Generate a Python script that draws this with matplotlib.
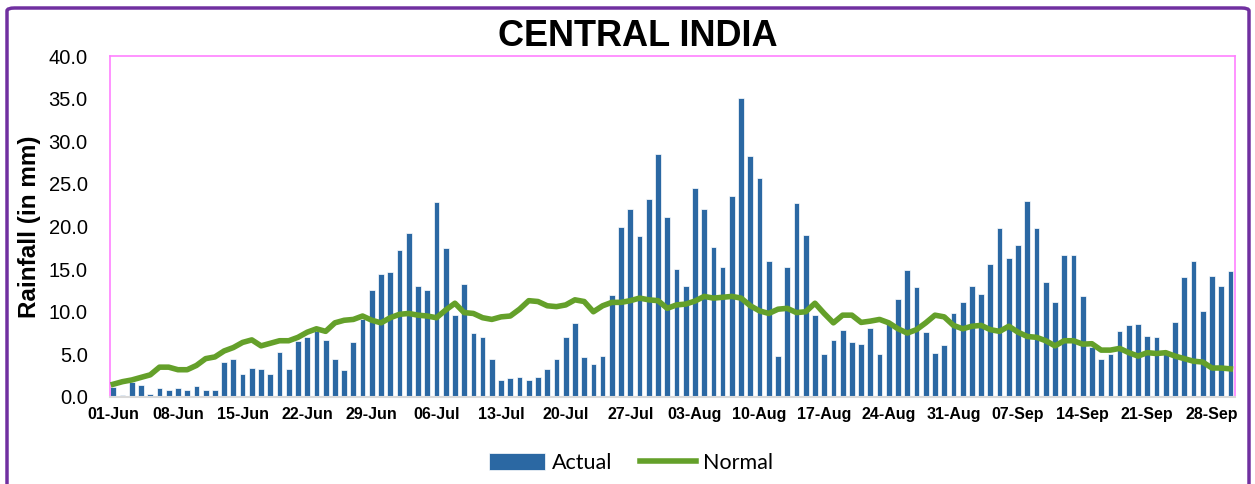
import pandas as pd
import matplotlib.pyplot as plt
from matplotlib.patches import FancyBboxPatch

plt.rcParams['font.family'] = ['Liberation Sans', 'DejaVu Sans']

dates = pd.date_range('2023-06-01', '2023-09-30', freq='D')
day_labels = dates.strftime('%d-%b').tolist()

actual = [1.2, 0.2, 1.8, 1.4, 0.35, 1.0, 0.8, 1.0, 0.8, 1.3,
          0.8, 0.8, 4.1, 4.5, 2.7, 3.4, 3.3, 2.7, 5.3, 3.3,
          6.6, 7.0, 7.7, 6.7, 4.4, 3.2, 6.4, 9.1, 12.6, 14.4,
          14.7, 17.3, 19.2, 13.0, 12.6, 22.9, 17.5, 9.6, 13.2, 7.5,
          7.0, 4.5, 2.0, 2.2, 2.3, 2.0, 2.3, 3.3, 4.5, 7.0,
          8.7, 4.7, 3.9, 4.8, 12.0, 19.9, 22.1, 18.9, 23.2, 28.5,
          21.1, 15.0, 13.0, 24.5, 22.1, 17.6, 15.3, 23.6, 35.1, 28.3,
          25.7, 15.9, 4.8, 15.2, 22.7, 19.0, 9.6, 5.0, 6.7, 7.9,
          6.4, 6.2, 8.1, 5.0, 8.7, 11.5, 14.9, 12.9, 7.6, 5.2,
          6.1, 9.9, 11.1, 13.0, 12.1, 15.6, 19.8, 16.3, 17.8, 23.0,
          19.8, 13.5, 11.1, 16.7, 16.7, 11.9, 5.9, 4.4, 5.0, 7.8,
          8.4, 8.6, 7.1, 7.0, 5.3, 8.8, 14.1, 15.9, 10.1, 14.2,
          13.0, 14.8]

normal = [1.5, 1.8, 2.0, 2.3, 2.6, 3.5, 3.5, 3.2, 3.2, 3.7,
          4.5, 4.7, 5.4, 5.8, 6.4, 6.7, 6.0, 6.3, 6.6, 6.6,
          7.0, 7.6, 8.0, 7.7, 8.7, 9.0, 9.1, 9.5, 9.0, 8.7,
          9.3, 9.7, 9.8, 9.6, 9.5, 9.3, 10.2, 11.0, 9.9, 9.8,
          9.3, 9.1, 9.4, 9.5, 10.3, 11.3, 11.2, 10.7, 10.6, 10.8,
          11.4, 11.2, 10.0, 10.7, 11.1, 11.1, 11.3, 11.6, 11.4, 11.3,
          10.4, 10.8, 10.9, 11.25, 11.8, 11.6, 11.7, 11.8, 11.6, 10.7,
          10.1, 9.8, 10.3, 10.4, 9.9, 10.0, 11.0, 9.8, 8.7, 9.6,
          9.6, 8.75, 8.9, 9.1, 8.7, 8.0, 7.5, 7.9, 8.7, 9.6,
          9.4, 8.4, 8.0, 8.3, 8.4, 7.9, 7.7, 8.3, 7.6, 7.1,
          7.0, 6.6, 6.0, 6.6, 6.6, 6.2, 6.25, 5.5, 5.5, 5.7,
          5.2, 4.8, 5.2, 5.1, 5.2, 4.8, 4.5, 4.2, 4.1, 3.4,
          3.4, 3.3]

x = list(range(len(day_labels)))

fig = plt.figure(figsize=(12.55, 4.84), dpi=100)
ax = fig.add_axes([110 / 1255, 1 - 397 / 484, 1125 / 1255, 341 / 484])

bars = ax.bar(x, actual, width=0.62, color='#2B68A3', edgecolor='white', linewidth=0.5,
              label='Actual', zorder=2)
line, = ax.plot(x, normal, color='#64A02A', linewidth=4, label='Normal', zorder=3)

ax.set_xlim(-0.36, 121.5)
ax.set_ylim(0, 40)
ax.set_yticks(range(0, 41, 5))
ax.set_yticklabels([f'{v:.1f}' for v in range(0, 41, 5)], fontsize=14.5)
ax.set_xticks(x[::7])
ax.set_xticklabels(day_labels[::7], fontsize=11.5, fontweight='bold')
ax.tick_params(axis='both', length=0)
ax.tick_params(axis='x', pad=7)
ax.tick_params(axis='y', pad=16)

ax.set_ylabel('Rainfall (in mm)', fontsize=17.5, fontweight='bold')
ax.yaxis.set_label_coords(-0.061, 0.5)

for side in ['top', 'left', 'right']:
    ax.spines[side].set_color('#FF80FF')
    ax.spines[side].set_linewidth(1.2)
ax.spines['bottom'].set_color('#D9D9D9')
ax.spines['bottom'].set_linewidth(1.5)

fig.text(0.508, 1 - 37 / 484, 'CENTRAL INDIA', fontsize=26, fontweight='bold',
         ha='center', va='center')

fig.legend([bars, line], ['Actual', 'Normal'], loc='center',
           bbox_to_anchor=(631 / 1255, 1 - 463 / 484), ncol=2,
           frameon=False, prop={'family': 'Lato', 'size': 15.5},
           handlelength=2.6, handleheight=0.8, columnspacing=1.3, handletextpad=0.3)

border = FancyBboxPatch((7 / 1255, -0.1), 1242 / 1255, 1 - 8 / 484 + 0.1,
                        boxstyle='round,pad=0,rounding_size=0.006',
                        transform=fig.transFigure, fill=False,
                        edgecolor='#7030A0', linewidth=2.5)
fig.patches.append(border)

fig.savefig('out.png', dpi=100)
